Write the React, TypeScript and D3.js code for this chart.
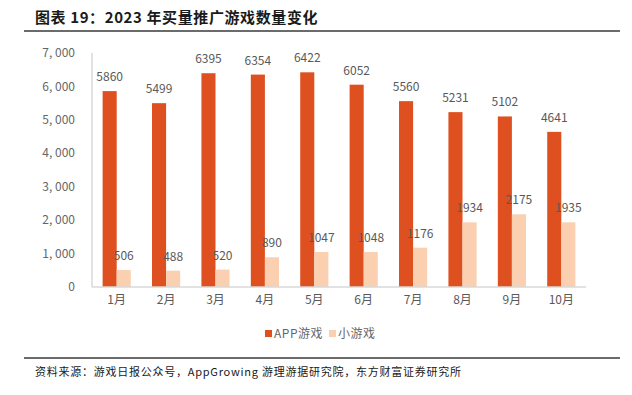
import React from "react";
import * as d3 from "d3";

const categories = ["1月", "2月", "3月", "4月", "5月", "6月", "7月", "8月", "9月", "10月"];
const appGames = [5860, 5499, 6395, 6354, 6422, 6052, 5560, 5231, 5102, 4641];
const miniGames = [506, 488, 520, 890, 1047, 1048, 1176, 1934, 2175, 1935];
const seriesNames = ["APP游戏", "小游戏"];
const yTicks = [0, 1000, 2000, 3000, 4000, 5000, 6000, 7000];

const W = 632;
const H = 395;
const COLORS = ["#DE501F", "#FAD0B0"];
const FONT = "'Noto Sans CJK SC', 'Liberation Sans', sans-serif";

export default function App() {
  const x = d3.scaleBand<string>().domain(categories).range([92, 586]).paddingInner(0.43).paddingOuter(0.215);
  const xs = d3.scaleBand<string>().domain(seriesNames).range([0, x.bandwidth()]);
  const y = d3.scaleLinear().domain([0, 7000]).range([287, 53]);
  const fmt = d3.format(",");
  const series = [appGames, miniGames];

  return (
    <svg width={W} height={H} style={{ position: "absolute", left: 0, top: 0, background: "#fff" }}>
      <text x={35} y={23} fontFamily={FONT} fontWeight="bold" fontSize={15} fill="#1a1a1a" letterSpacing={0.6}>
        图表 19：2023 年买量推广游戏数量变化
      </text>
      <line x1={24} x2={620} y1={31} y2={31} stroke="#3a3a3a" strokeWidth={1.5} />

      {/* y axis */}
      <line x1={92} x2={92} y1={y(7000)} y2={y(0)} stroke="#d9d9d9" strokeWidth={1.5} />
      {yTicks.map((t) => (
        <text key={t} x={75} y={y(t)} dy="0.35em" textAnchor="end" fontFamily={FONT} fontSize={12} fill="#666">
          {fmt(t).replace(",", ", ")}
        </text>
      ))}

      {/* bars */}
      {series.map((vals, si) =>
        vals.map((v, i) => {
          const bx = (x(categories[i]) ?? 0) + (xs(seriesNames[si]) ?? 0);
          return (
            <g key={`${si}-${i}`}>
              <rect x={bx} y={y(v)} width={xs.bandwidth()} height={y(0) - y(v)} fill={COLORS[si]} />
              <text
                x={bx + xs.bandwidth() / 2}
                y={y(v) - 10}
                textAnchor="middle"
                fontFamily={FONT}
                fontSize={12}
                fill="#595959"
              >
                {v}
              </text>
            </g>
          );
        })
      )}

      {/* x axis */}
      <line x1={92} x2={586} y1={y(0)} y2={y(0)} stroke="#d9d9d9" strokeWidth={1.5} />
      {categories.map((c) => (
        <text key={c} x={(x(c) ?? 0) + x.bandwidth() / 2} y={304} textAnchor="middle" fontFamily={FONT} fontSize={12} fill="#595959">
          {c}
        </text>
      ))}

      {/* legend */}
      {seriesNames.map((n, i) => {
        const lx = i === 0 ? 265 : 329;
        return (
          <g key={n}>
            <rect x={lx} y={330} width={7} height={7} fill={COLORS[i]} />
            <text x={lx + 9} y={334} dy="0.35em" fontFamily={FONT} fontSize={12} fill="#666" letterSpacing={0.5}>
              {n}
            </text>
          </g>
        );
      })}

      {/* footer */}
      <line x1={24} x2={620} y1={358} y2={358} stroke="#3a3a3a" strokeWidth={1.5} />
      <text x={35} y={376} fontFamily={FONT} fontSize={11} fill="#1a1a1a" letterSpacing={0.75}>
        资料来源：游戏日报公众号，AppGrowing 游理游据研究院，东方财富证券研究所
      </text>
    </svg>
  );
}
